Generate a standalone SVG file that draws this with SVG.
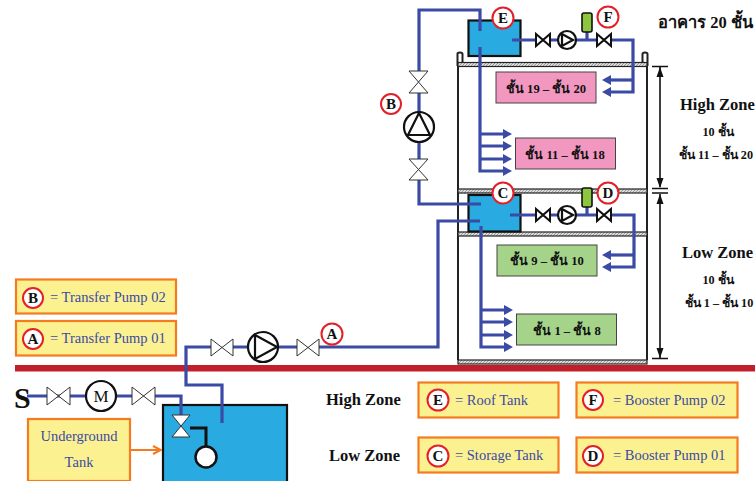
<svg xmlns="http://www.w3.org/2000/svg" width="755" height="481" viewBox="0 0 755 481">
<style>
text{font-family:"Liberation Serif","Noto Sans",serif}
.pipe{fill:none;stroke:#3b4aa5;stroke-width:3.200}
.bv{fill:#fff;stroke:#111;stroke-width:2}
.tv{fill:#fff;stroke:#333;stroke-width:1}
.pump{fill:#fff;stroke:#111;stroke-width:2.2}
.tank{fill:#29abe2;stroke:#111;stroke-width:2.2}
.wall{fill:none;stroke:#222;stroke-width:2}
.slab{fill:url(#hatch);stroke:#222;stroke-width:1.2}
.pink{fill:#f297c0;stroke:#444;stroke-width:1}
.green{fill:#a5d38a;stroke:#444;stroke-width:1}
.leg{fill:#fbf191;stroke:#f47b20;stroke-width:2.2}
.cyl{fill:#8cc63f;stroke:#111;stroke-width:1.6}
.tag{fill:#fff;stroke:#e3202a;stroke-width:2}
.tagt{font-size:15px;font-weight:bold;fill:#111;text-anchor:middle}
.lt{font-size:14.5px;fill:#3b4aa5}
.fl{font-size:12.6px;font-weight:bold;fill:#111;text-anchor:middle}
.zone{font-size:16.5px;font-weight:bold;fill:#111}
.sub{font-size:12.2px;font-weight:bold;fill:#111;text-anchor:middle}
.dim{fill:none;stroke:#111;stroke-width:1.6}
</style>
<defs>
<pattern id="hatch" width="3" height="3" patternUnits="userSpaceOnUse"><rect width="3" height="3" fill="#ddd"/><path d="M0 3L3 0" stroke="#888" stroke-width="0.8"/></pattern>
<marker id="or" viewBox="0 0 10 10" refX="9" refY="5" markerWidth="5" markerHeight="5" orient="auto"><path d="M1 1L9 5L1 9" fill="none" stroke="#f47b20" stroke-width="2"/></marker>
</defs>
<rect width="755" height="481" fill="#fff"/>

<g id="building">
<path class="wall" d="M457.500 66V53.500Q457.500 52.500 460 52.500Q462.500 52.500 462.500 54V62M642.500 62V54Q642.500 52.500 645 52.500Q647.500 52.500 647.500 54V66M458 66V360M647 66V360"/>
<rect class="slab" x="458" y="62.500" width="189" height="4"/>
<rect class="slab" x="458" y="189" width="189" height="4"/>
<rect class="slab" x="458" y="232" width="189" height="4"/>
<rect class="slab" x="458" y="360" width="189" height="4"/>
</g>
<rect id="ground" x="15" y="365" width="740" height="6.500" fill="#c1202a"/>

<g id="tank-e"><rect class="tank" x="468.500" y="20.500" width="52" height="35.500"/></g>
<g id="tank-c"><rect class="tank" x="468.500" y="195" width="52" height="36.500"/></g>
<g id="underground-tank"><rect class="tank" x="163" y="405" width="124" height="78"/></g>

<g id="connectors">
<path class="pipe" d="M419 71V10H480V31"/>
<path class="pipe" d="M419 93V159"/>
<path class="pipe" d="M419 180V204H481"/>
<path class="pipe" d="M512 40H633V92H610"/>
<path class="pipe" d="M633 80H610"/>
<path class="pipe" d="M480 47V171H505"/>
<path class="pipe" d="M480 134H505M480 146H505M480 159H505"/>
<path class="pipe" d="M510 215H634V267H610"/>
<path class="pipe" d="M634 255H610"/>
<path class="pipe" d="M481 226V347H505"/>
<path class="pipe" d="M481 310H505M481 322H505M481 335H505"/>
<path class="pipe" d="M480 221H438V347H319"/>
<path class="pipe" d="M222 423V385H186V347H211"/>
<path class="pipe" d="M233 347H297"/>
<path class="pipe" d="M27 396H132"/>
<path class="pipe" d="M155 396H181V415"/>
<path class="pipe" d="M587 32V40M587 207V215"/>
<g fill="#3b4aa5">
<path d="M602 80L611 75V85ZM602 92L611 87V97ZM602 255L611 250V260ZM602 267L611 262V272Z"/>
<path d="M512 134L503 129V139ZM512 146L503 141V151ZM512 159L503 154V164ZM512 171L503 166V176Z"/>
<path d="M513 310L504 305V315ZM513 322L504 317V327ZM513 335L504 330V340ZM513 347L504 342V352Z"/>
</g>
<path d="M130 450H161" fill="none" stroke="#f47b20" stroke-width="2" marker-end="url(#or)"/>
<path d="M190 428H206V447" fill="none" stroke="#111" stroke-width="3"/>
<path class="dim" d="M652 66.500H668M660 67V187M652 188.500H668M652 193H668M660 194V358M652 358.500H668"/>
<path d="M660 67L656.500 77H663.500ZM660 188L656.500 178H663.500ZM660 194L656.500 204H663.500ZM660 358L656.500 348H663.500Z" fill="#111"/>
</g>

<g id="valves-top">
<path class="bv" d="M536 34V46L550 34V46ZM597 34V46L611 34V46Z"/>
<path class="bv" d="M536 209V221L550 209V221ZM597 209V221L611 209V221Z"/>
<circle class="pump" cx="567" cy="40" r="9"/><path class="pump" d="M562 34L573 40L562 46Z"/>
<circle class="pump" cx="567" cy="215" r="9"/><path class="pump" d="M562 209L573 215L562 221Z"/>
<rect class="cyl" x="582" y="13" width="10" height="19" rx="2"/>
<rect class="cyl" x="582" y="188" width="10" height="19" rx="2"/>
</g>
<g id="pump-b">
<path class="tv" d="M409 71H428L409 93H428Z"/>
<path class="tv" d="M409 159H428L409 180H428Z"/>
<circle class="pump" cx="419" cy="127" r="15"/>
<path class="pump" d="M419 113L408 135H430Z"/>
</g>
<g id="pump-a">
<path class="tv" d="M211 339V356L233 339V356Z"/>
<path class="tv" d="M297 339V356L319 339V356Z"/>
<circle class="pump" cx="263" cy="347" r="15"/>
<path class="pump" d="M255 335L277 347L255 359Z"/>
</g>
<g id="inlet">
<path class="tv" d="M47 387V405L70 387V405Z"/>
<path class="tv" d="M132 387V405L155 387V405Z"/>
<circle class="pump" cx="101" cy="396" r="15"/>
<text x="101" y="402" font-size="17" text-anchor="middle" fill="#111">M</text>
<text x="14" y="408" font-size="30" font-weight="bold" fill="#111">S</text>
<path class="tv" d="M172 415H190L172 437H190Z"/>
<circle cx="206" cy="457" r="10.500" fill="#fff" stroke="#111" stroke-width="2.500"/>
</g>

<g id="floor-19-20"><rect class="pink" x="496" y="72" width="100" height="31"/><text class="fl" x="546" y="93">ชั้น 19 – ชั้น 20</text></g>
<g id="floor-11-18"><rect class="pink" x="515.500" y="138" width="100" height="31"/><text class="fl" x="565" y="159">ชั้น 11 – ชั้น 18</text></g>
<g id="floor-9-10"><rect class="green" x="497" y="245" width="100" height="31"/><text class="fl" x="547" y="265">ชั้น 9 – ชั้น 10</text></g>
<g id="floor-1-8"><rect class="green" x="516.500" y="314" width="100" height="31"/><text class="fl" x="567" y="335">ชั้น 1 – ชั้น 8</text></g>

<g id="tag-e"><circle class="tag" cx="503" cy="18" r="10.500"/><text class="tagt" x="503" y="23">E</text></g>
<g id="tag-f"><circle class="tag" cx="608" cy="17" r="10.500"/><text class="tagt" x="608" y="22">F</text></g>
<g id="tag-b"><circle class="tag" cx="391" cy="104" r="10"/><text class="tagt" x="391" y="109">B</text></g>
<g id="tag-c"><circle class="tag" cx="503" cy="193" r="10.500"/><text class="tagt" x="503" y="198">C</text></g>
<g id="tag-d"><circle class="tag" cx="608" cy="193" r="10.500"/><text class="tagt" x="608" y="198">D</text></g>
<g id="tag-a"><circle class="tag" cx="332" cy="334" r="10.500"/><text class="tagt" x="332" y="339">A</text></g>

<text class="zone" x="658" y="28">อาคาร 20 ชั้น</text>
<text class="zone" x="680" y="110">High Zone</text>
<text class="sub" x="718" y="136">10 ชั้น</text>
<text class="sub" x="716" y="159">ชั้น 11 – ชั้น 20</text>
<text class="zone" x="682" y="258">Low Zone</text>
<text class="sub" x="718" y="284">10 ชั้น</text>
<text class="sub" x="719" y="307">ชั้น 1 – ชั้น 10</text>

<g id="legend-b"><rect class="leg" x="16" y="279.500" width="160" height="34"/><circle class="tag" cx="33" cy="298" r="10"/><text class="tagt" x="33" y="303">B</text><text class="lt" x="50" y="302">= Transfer Pump 02</text></g>
<g id="legend-a"><rect class="leg" x="16" y="321" width="160" height="34.500"/><circle class="tag" cx="33" cy="339" r="10"/><text class="tagt" x="33" y="344">A</text><text class="lt" x="50" y="343">= Transfer Pump 01</text></g>
<g id="legend-underground"><rect class="leg" x="28" y="419" width="102" height="62"/><text class="lt" x="79" y="441" text-anchor="middle">Underground</text><text class="lt" x="79" y="467" text-anchor="middle">Tank</text></g>

<text class="zone" x="326" y="405">High Zone</text>
<text class="zone" x="329" y="461">Low Zone</text>
<g id="legend-e"><rect class="leg" x="418.500" y="382.500" width="140" height="35"/><circle class="tag" cx="438" cy="400" r="10.500"/><text class="tagt" x="438" y="405">E</text><text class="lt" x="455" y="405">= Roof Tank</text></g>
<g id="legend-f"><rect class="leg" x="576.500" y="382.500" width="161" height="35"/><circle class="tag" cx="593" cy="400" r="10"/><text class="tagt" x="593" y="405">F</text><text class="lt" x="613" y="405">= Booster Pump 02</text></g>
<g id="legend-c"><rect class="leg" x="418.500" y="437.500" width="140" height="35"/><circle class="tag" cx="438" cy="456" r="10.500"/><text class="tagt" x="438" y="461">C</text><text class="lt" x="455" y="460">= Storage Tank</text></g>
<g id="legend-d"><rect class="leg" x="576.500" y="437.500" width="161" height="35"/><circle class="tag" cx="593" cy="456" r="10"/><text class="tagt" x="593" y="461">D</text><text class="lt" x="613" y="460">= Booster Pump 01</text></g>
</svg>
